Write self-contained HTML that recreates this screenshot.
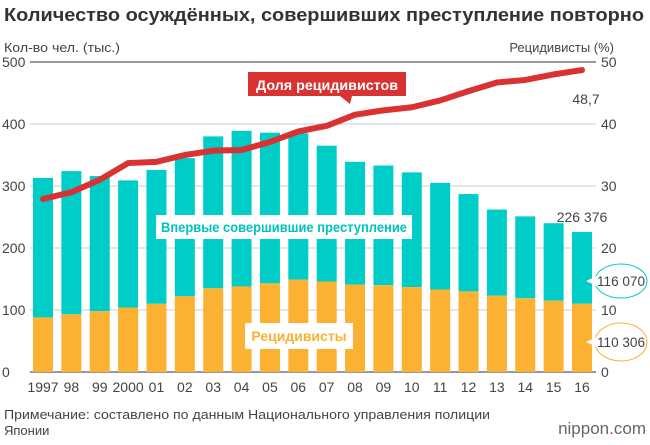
<!DOCTYPE html>
<html><head><meta charset="utf-8"><style>
body{margin:0;background:#fff;font-family:"Liberation Sans",sans-serif;}
svg text{font-family:"Liberation Sans",sans-serif;}
</style></head><body>
<svg id="c" width="650" height="440">
<text x="4" y="21" font-size="18" font-weight="bold" fill="#333" textLength="640" lengthAdjust="spacingAndGlyphs">Количество осуждённых, совершивших преступление повторно</text>
<text x="4" y="52" font-size="13" fill="#444" textLength="116" lengthAdjust="spacingAndGlyphs">Кол-во чел. (тыс.)</text>
<text x="614" y="52" font-size="13" fill="#444" text-anchor="end">Рецидивисты (%)</text>
<g id="grid"></g><g id="bars"></g><g id="line"></g><g id="labels"></g>
<text x="4" y="419" font-size="13" fill="#444" textLength="486" lengthAdjust="spacingAndGlyphs">Примечание: составлено по данным Национального управления полиции</text>
<text x="4" y="435" font-size="13" fill="#444">Японии</text>
<text x="646" y="434" font-size="17" fill="#666" text-anchor="end">nippon<tspan fill="#c33">.</tspan>com</text>
</svg>
<script>
const years=["1997","98","99","2000","01","02","03","04","05","06","07","08","09","10","11","12","13","14","15","16"];
const totals=[313,324,316,309,326,345,380,389,386,385,365,339,333,322,305,287,262,251,240,226];
const recid=[88,93,98,104,110,122,135,138,143,149,146,141,140,137,133,130,123,119,115,110];
const rate=[27.9,29,31,33.7,33.9,35,35.7,35.8,37.1,38.8,39.7,41.5,42.2,42.7,43.8,45.3,46.7,47.1,48,48.7];
const leftTicks=[0,100,200,300,400,500];
const rightTicks=[0,10,20,30,40,50];
const NS="http://www.w3.org/2000/svg";
const y0=372,yTop=62;
const yL=v=>y0-(v/500)*(y0-yTop);
const yR=v=>y0-(v/50)*(y0-yTop);
const xC=i=>43+i*(582-43)/(years.length-1);
function mk(p,tag,a){const e=document.createElementNS(NS,tag);for(const k in a)e.setAttribute(k,a[k]);document.getElementById(p).appendChild(e);return e;}
leftTicks.forEach((t,i)=>{
 const l=mk('grid','line',{x1:30,x2:596,y1:yL(t),y2:yL(t),stroke:(t===0||t===500)?'#777':'#ccc','stroke-width':(t===0||t===500)?1.5:1});
 
 
 const a=mk('grid','text',{x:2,y:yL(t)+5,'font-size':14,fill:'#444'});a.textContent=t;
 
 
 const b=mk('grid','text',{x:601,y:yR(rightTicks[i])+5,'font-size':14,fill:'#444'});b.textContent=rightTicks[i];
 
 
});
years.forEach((y,i)=>{
 const x=xC(i)-10;
 const t=mk('bars','rect',{x:x,y:yL(totals[i]),width:20,height:yL(recid[i])-yL(totals[i]),fill:'#00cdc7'});
 
 
 const r=mk('bars','rect',{x:x,y:yL(recid[i]),width:20,height:y0-yL(recid[i]),fill:'#fbb131'});
 
 
 const lb=mk('bars','text',{x:xC(i),y:392,'font-size':14,fill:'#444','text-anchor':'middle'});lb.textContent=y;
 
 
});
const pl=mk('line','polyline',{points:rate.map((v,i)=>xC(i)+','+yR(v)).join(' '),fill:'none',stroke:'#d93232','stroke-width':6,'stroke-linejoin':'round','stroke-linecap':'round'});


const L=document.getElementById('labels');
L.innerHTML=`
<g><rect x="248" y="72" width="158" height="24" fill="#d93232"/><polygon points="340,96 352,96 350,104" fill="#d93232"/><text x="327" y="90" font-size="14" font-weight="bold" fill="#fff" text-anchor="middle" textLength="142" lengthAdjust="spacingAndGlyphs">Доля рецидивистов</text></g>
<text x="586" y="104" font-size="14" fill="#444" text-anchor="middle">48,7</text>
<text x="582" y="222" font-size="14" fill="#444" text-anchor="middle">226 376</text>
<g><rect x="156" y="215" width="256" height="24" fill="#fff"/><text x="284" y="232" font-size="14" font-weight="bold" fill="#00c2bc" text-anchor="middle" textLength="246" lengthAdjust="spacingAndGlyphs">Впервые совершившие преступление</text></g>
<g><rect x="245" y="323" width="108" height="26" fill="#fff"/><text x="299" y="341" font-size="14" font-weight="bold" fill="#fbb131" text-anchor="middle">Рецидивисты</text></g>
<g><ellipse cx="621" cy="281" rx="26" ry="17" fill="#fff" stroke="#00cdc7"/><polygon points="586,281 597,276 597,286" fill="#fff"/><text x="621" y="286" font-size="14" fill="#444" text-anchor="middle" textLength="48" lengthAdjust="spacingAndGlyphs">116 070</text></g>
<g><ellipse cx="621" cy="342" rx="26" ry="19" fill="#fff" stroke="#fbb131"/><polygon points="586,342 597,337 597,347" fill="#fff"/><text x="621" y="347" font-size="14" fill="#444" text-anchor="middle" textLength="48" lengthAdjust="spacingAndGlyphs">110 306</text></g>`;
</script>
</body></html>
